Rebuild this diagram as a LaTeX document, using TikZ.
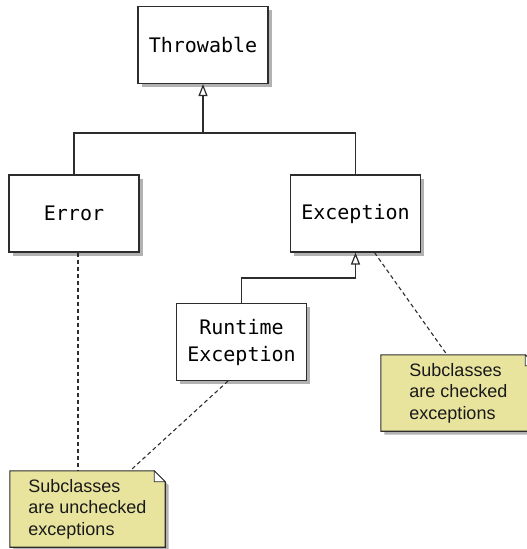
\documentclass[tikz,border=0pt]{standalone}
\usepackage{fontspec}
\setmainfont{Liberation Sans}
\newfontfamily\monof{DejaVu Sans Mono}
\usetikzlibrary{arrows.meta,shadows,calc,backgrounds}
\definecolor{notefill}{RGB}{232,228,158}
\definecolor{edgec}{RGB}{45,45,45}
\begin{document}
\begin{tikzpicture}[x=1pt,y=-1pt,
  shadowed/.style={drop shadow={shadow xshift=3.5pt,shadow yshift=-3.5pt,fill=black!30,opacity=1}},
  cls/.style={draw=edgec,line width=1.1pt,fill=white,minimum width=130pt,minimum height=77pt,
    inner sep=0pt,font=\monof\fontsize{20}{27}\selectfont,align=center,shadowed},
  notetext/.style={minimum width=155pt,minimum height=76pt,inner sep=0pt,
    font=\fontsize{18}{21.5}\selectfont,align=left,text=black!90},
  notebody/.style={draw=edgec,line width=1.1pt,fill=notefill,shadowed},
  notefold/.style={draw=edgec,line width=0.8pt,fill=white},
  conn/.style={draw=edgec,line width=1.2pt},
  inh/.style={conn,-{Triangle[open,length=12pt,width=9pt,fill=white]}},
  dashline/.style={draw=edgec,line width=1.1pt,dash pattern=on 4pt off 3pt}]
\useasboundingbox (0,0) rectangle (527,549);
\clip (0,0) rectangle (527,549);

\node[cls] (thr) at (203,45) {Throwable};
\node[cls] (err) at (74,213.5) {Error};
\node[cls] (exc) at (355.5,213.5) {Exception};
\node[cls] (rt) at (241.5,342) {Runtime\\Exception};

\node[notetext] (n1) at (87.5,509) {Subclasses\\are unchecked\\exceptions};
\node[notetext] (n2) at (458.5,393) {Subclasses\\are checked\\exceptions};

\begin{scope}[on background layer]
  \foreach \n in {n1,n2}{
    \path[notebody] (\n.north west) -- ($(\n.north east)+(-11,0)$) -- ($(\n.north east)+(0,11)$)
      -- (\n.south east) -- (\n.south west) -- cycle;
    \path[notefold] ($(\n.north east)+(-11,0)$) -- ($(\n.north east)+(-11,11)$) -- ($(\n.north east)+(0,11)$) -- cycle;
  }
\end{scope}

\coordinate (jt) at (203,133);
\draw[conn] (err.north) |- (jt) -| (exc.north);
\draw[inh] (jt) -- (thr.south);
\draw[inh] (rt.north) |- (exc.south |- 0,278) -- (exc.south);

\draw[dashline] ([xshift=4pt]err.south) -- ([xshift=4pt]err.south |- n1.north);
\draw[dashline] ([xshift=-13.5pt]rt.south) -- ([xshift=42.5pt]n1.north);
\draw[dashline] ([xshift=19pt]exc.south) -- ([xshift=-11.5pt]n2.north);
\end{tikzpicture}
\end{document}
